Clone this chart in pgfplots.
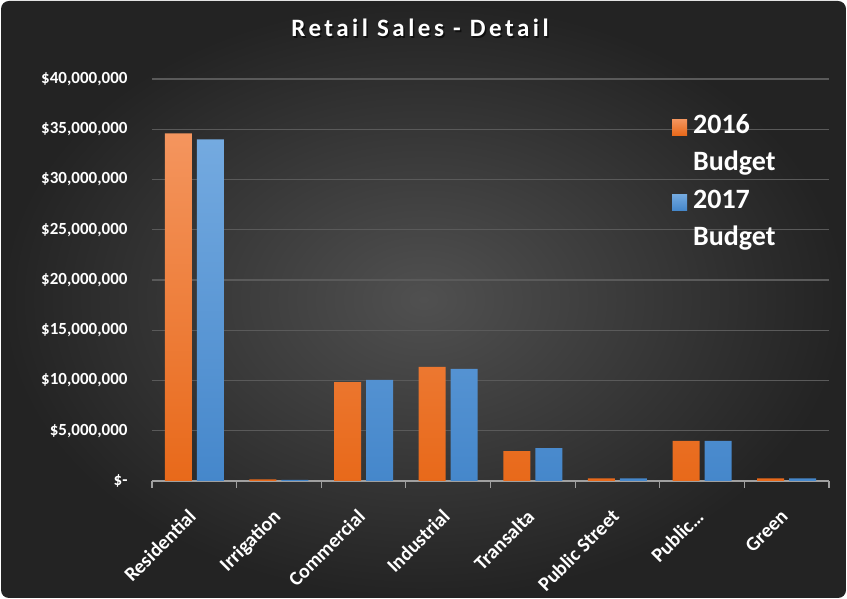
\documentclass[border=0pt]{standalone}
\usepackage{pgfplots}
\pgfplotsset{compat=1.18}
\usepackage{fontspec}
\setmainfont{Carlito}
\newfontfamily\titlefont[LetterSpace=14]{Carlito}
\definecolor{bgin}{HTML}{505050}
\definecolor{bgout}{HTML}{232323}
\definecolor{gridc}{HTML}{5A5A5A}
\definecolor{axisc}{HTML}{A0A0A0}
\definecolor{otop}{HTML}{F4955E}
\definecolor{obot}{HTML}{E8691A}
\definecolor{btop}{HTML}{74AAE0}
\definecolor{bbot}{HTML}{4587CB}
\pgfplotstableread{
x y2016 y2017
0 34600000 34000000
1 150000 120000
2 9850000 10050000
3 11350000 11150000
4 2980000 3280000
5 250000 250000
6 3980000 3980000
7 250000 250000
}\salesdata
\begin{document}
\begin{tikzpicture}
\fill[white] (0,0) rectangle (847pt,599pt);
\shade[inner color=bgin, outer color=bgout, rounded corners=8pt] (1pt,1pt) rectangle (846pt,598pt);
\useasboundingbox (0,0) rectangle (847pt,599pt);
\node[text=black, opacity=0.6] at (421.5pt,569.5pt) {\titlefont\fontsize{25}{30}\selectfont\bfseries Retail Sales - Detail};
\node[text=white] at (420pt,571pt) {\titlefont\fontsize{25}{30}\selectfont\bfseries Retail Sales - Detail};
\begin{axis}[
  at={(152pt,118pt)}, anchor=south west,
  scale only axis, width=677pt, height=402pt,
  xmin=-0.5, xmax=7.5, ymin=0, ymax=40000000,
  ybar=5pt, bar width=27pt,
  axis x line*=bottom, axis y line*=left,
  y axis line style={draw=none},
  x axis line style={draw=axisc, line width=1.2pt},
  xtick={0,...,7},
  xticklabels={Residential,Irrigation,Commercial,Industrial,Transalta,Public Street,Public…,Green},
  minor xtick={-0.5,0.5,...,7.5},
  major tick length=0pt, minor tick length=7pt, tick align=outside,
  minor tick style={draw=axisc, line width=1.2pt},
  ytick={0,5000000,...,40000000},
  yticklabels={{\$-},{\$5,000,000},{\$10,000,000},{\$15,000,000},{\$20,000,000},{\$25,000,000},{\$30,000,000},{\$35,000,000},{\$40,000,000}},
  scaled y ticks=false,
  ymajorgrids, grid style={draw=gridc, line width=1.2pt},
  ticklabel style={text=white, font=\fontsize{17}{20}\selectfont\bfseries},
  yticklabel style={xshift=-21pt},
  xticklabel style={rotate=45, anchor=north east, inner sep=0pt, xshift=-24pt, yshift=-14pt,
    font=\fontsize{20}{24}\selectfont\bfseries},
  legend cell align=left,
  legend image code/.code={\fill[#1] (0pt,-9pt) rectangle (15pt,7pt);},
  legend style={at={(0.768,0.925)}, anchor=north west, draw=none, fill=none, inner sep=0pt,
    text=white, font=\fontsize{28}{32}\selectfont\bfseries, row sep=3.5pt,
    nodes={inner sep=4pt, inner xsep=6pt, text height=20pt, text depth=6pt}},
]
\addplot[draw=none, top color=otop, bottom color=obot, bar shift=-16pt] table[x=x, y=y2016] {\salesdata};
\addlegendentry{2016}
\addlegendimage{empty legend}
\addlegendentry{Budget}
\addplot[draw=none, top color=btop, bottom color=bbot, bar shift=16pt] table[x=x, y=y2017] {\salesdata};
\addlegendentry{2017}
\addlegendimage{empty legend}
\addlegendentry{Budget}
\end{axis}
\end{tikzpicture}
\end{document}
